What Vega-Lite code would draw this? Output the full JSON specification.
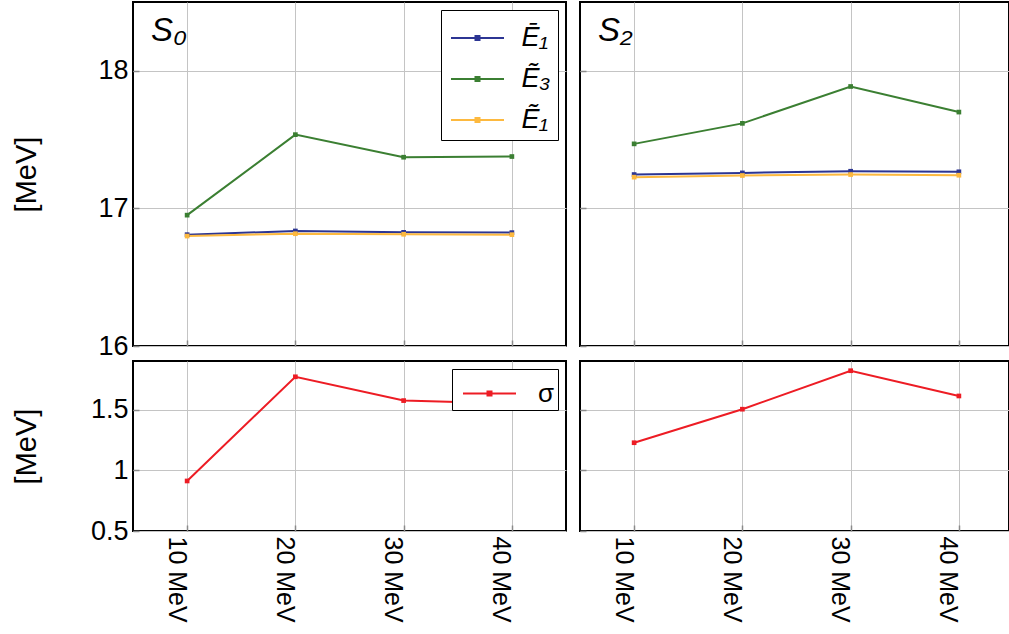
{
  "$schema": "https://vega.github.io/schema/vega-lite/v6.json",
  "padding": {"left": 10, "top": 1, "right": 0, "bottom": 0},
  "background": "white",
  "config": {
    "font": "Liberation Sans",
    "view": {"stroke": "black", "strokeWidth": 2},
    "axis": {
      "gridColor": "#c4c4c4", "gridWidth": 1, "gridOpacity": 1,
      "ticks": true, "tickSize": -6, "tickColor": "#8a8a8a", "tickWidth": 1.5, "domain": false,
      "labelFont": "Liberation Sans", "labelFontSize": 27, "labelColor": "black",
      "titleFont": "Liberation Sans", "titleFontSize": 29, "titleFontWeight": "normal", "titleColor": "black",
      "labelPadding": 11
    },
    "title": {"font": "Liberation Sans", "fontStyle": "italic", "fontWeight": "normal", "fontSize": 33, "color": "black"}
  },
  "datasets": {
    "energies": [
      {"panel": "S0", "energy": 10, "series": "Ē₁", "value": 16.809},
      {"panel": "S0", "energy": 20, "series": "Ē₁", "value": 16.836},
      {"panel": "S0", "energy": 30, "series": "Ē₁", "value": 16.826},
      {"panel": "S0", "energy": 40, "series": "Ē₁", "value": 16.824},
      {"panel": "S0", "energy": 10, "series": "Ẽ₃", "value": 16.951},
      {"panel": "S0", "energy": 20, "series": "Ẽ₃", "value": 17.536},
      {"panel": "S0", "energy": 30, "series": "Ẽ₃", "value": 17.372},
      {"panel": "S0", "energy": 40, "series": "Ẽ₃", "value": 17.377},
      {"panel": "S0", "energy": 10, "series": "Ẽ₁", "value": 16.799},
      {"panel": "S0", "energy": 20, "series": "Ẽ₁", "value": 16.816},
      {"panel": "S0", "energy": 30, "series": "Ẽ₁", "value": 16.812},
      {"panel": "S0", "energy": 40, "series": "Ẽ₁", "value": 16.809},
      {"panel": "S2", "energy": 10, "series": "Ē₁", "value": 17.246},
      {"panel": "S2", "energy": 20, "series": "Ē₁", "value": 17.258},
      {"panel": "S2", "energy": 30, "series": "Ē₁", "value": 17.270},
      {"panel": "S2", "energy": 40, "series": "Ē₁", "value": 17.266},
      {"panel": "S2", "energy": 10, "series": "Ẽ₃", "value": 17.469},
      {"panel": "S2", "energy": 20, "series": "Ẽ₃", "value": 17.618},
      {"panel": "S2", "energy": 30, "series": "Ẽ₃", "value": 17.886},
      {"panel": "S2", "energy": 40, "series": "Ẽ₃", "value": 17.700},
      {"panel": "S2", "energy": 10, "series": "Ẽ₁", "value": 17.227},
      {"panel": "S2", "energy": 20, "series": "Ẽ₁", "value": 17.239},
      {"panel": "S2", "energy": 30, "series": "Ẽ₁", "value": 17.246},
      {"panel": "S2", "energy": 40, "series": "Ẽ₁", "value": 17.241}
    ],
    "widths": [
      {"panel": "S0", "energy": 10, "series": "σ", "value": 0.912},
      {"panel": "S0", "energy": 20, "series": "σ", "value": 1.770},
      {"panel": "S0", "energy": 30, "series": "σ", "value": 1.574},
      {"panel": "S0", "energy": 40, "series": "σ", "value": 1.550},
      {"panel": "S2", "energy": 10, "series": "σ", "value": 1.227},
      {"panel": "S2", "energy": 20, "series": "σ", "value": 1.503},
      {"panel": "S2", "energy": 30, "series": "σ", "value": 1.820},
      {"panel": "S2", "energy": 40, "series": "σ", "value": 1.612}
    ]
  },
  "columns": 2,
  "spacing": {"row": 15, "column": 14},
  "bounds": "flush",
  "resolve": {"scale": {"color": "independent"}},
  "concat": [
    {
      "width": 433, "height": 344,
      "title": {"text": "S₀", "anchor": "start", "frame": "group", "baseline": "alphabetic", "offset": -72, "dx": 18},
      "data": {"name": "energies"},
      "transform": [{"filter": "datum.panel === 'S0'"}],
      "mark": {"type": "line", "strokeWidth": 2, "point": {"shape": "square", "filled": true, "size": 22}},
      "encoding": {
        "x": {"field": "energy", "type": "quantitative", "scale": {"domain": [5, 45], "nice": false, "zero": false},
              "axis": {"values": [10, 20, 30, 40], "labels": false, "title": null}},
        "y": {"field": "value", "type": "quantitative", "scale": {"domain": [16, 18.5], "nice": false, "zero": false},
              "axis": {"values": [16, 17, 18], "title": "[MeV]", "titleX": -107, "titleBaseline": "middle", "titleAlign": "center"}},
        "color": {"field": "series", "type": "nominal",
                  "scale": {"domain": ["Ē₁", "Ẽ₃", "Ẽ₁"], "range": ["#2c3593", "#3b7f32", "#fdb93f"]},
                  "legend": {"title": null, "orient": "top-right", "offset": 8, "strokeColor": "black", "fillColor": "white",
                             "padding": 7, "symbolType": "M-1.325,0H1.325M-0.1,-0.1H0.1V0.1H-0.1Z", "symbolSize": 1600,
                             "symbolStrokeWidth": 2, "symbolOffset": 8.5, "labelFontSize": 27, "labelFontStyle": "italic", "labelOffset": 23,
                             "labelExpr": "datum.label + '\u00a0\u00a0'",
                             "rowPadding": 7, "labelColor": "black", "cornerRadius": 0}}
      }
    },
    {
      "width": 429, "height": 344,
      "title": {"text": "S₂", "anchor": "start", "frame": "group", "baseline": "alphabetic", "offset": -72, "dx": 18},
      "data": {"name": "energies"},
      "transform": [{"filter": "datum.panel === 'S2'"}],
      "mark": {"type": "line", "strokeWidth": 2, "point": {"shape": "square", "filled": true, "size": 22}},
      "encoding": {
        "x": {"field": "energy", "type": "quantitative", "scale": {"domain": [5, 44.63], "nice": false, "zero": false},
              "axis": {"values": [10, 20, 30, 40], "labels": false, "title": null}},
        "y": {"field": "value", "type": "quantitative", "scale": {"domain": [16, 18.5], "nice": false, "zero": false},
              "axis": {"values": [16, 17, 18], "labels": false, "title": null}},
        "color": {"field": "series", "type": "nominal",
                  "scale": {"domain": ["Ē₁", "Ẽ₃", "Ẽ₁"], "range": ["#2c3593", "#3b7f32", "#fdb93f"]},
                  "legend": null}
      }
    },
    {
      "width": 433, "height": 170,
      "data": {"name": "widths"},
      "transform": [{"filter": "datum.panel === 'S0'"}],
      "mark": {"type": "line", "strokeWidth": 2, "point": {"shape": "square", "filled": true, "size": 22}},
      "encoding": {
        "x": {"field": "energy", "type": "quantitative", "scale": {"domain": [5, 45], "nice": false, "zero": false},
              "axis": {"values": [10, 20, 30, 40], "title": null, "labelExpr": "datum.value + ' MeV'", "labelAngle": 90,
                       "labelFontSize": 25, "labelPadding": 11, "labelOffset": -11}},
        "y": {"field": "value", "type": "quantitative", "scale": {"domain": [0.5, 1.9], "nice": false, "zero": false},
              "axis": {"values": [0.5, 1, 1.5], "format": "~g", "title": "[MeV]", "titleX": -107, "titleBaseline": "middle", "titleAlign": "center"}},
        "color": {"field": "series", "type": "nominal",
                  "scale": {"domain": ["σ"], "range": ["#ed1c24"]},
                  "legend": {"title": null, "orient": "top-right", "offset": 8, "strokeColor": "black", "fillColor": "white",
                             "padding": 3.5, "symbolType": "M-1.325,0H1.325M-0.1,-0.1H0.1V0.1H-0.1Z", "symbolSize": 1600,
                             "symbolStrokeWidth": 2, "symbolOffset": 13, "labelFontSize": 26, "labelOffset": 27.5,
                             "labelExpr": "datum.label + '\u00a0\u00a0\u00a0'",
                             "labelColor": "black", "cornerRadius": 0}}
      }
    },
    {
      "width": 429, "height": 170,
      "data": {"name": "widths"},
      "transform": [{"filter": "datum.panel === 'S2'"}],
      "mark": {"type": "line", "strokeWidth": 2, "point": {"shape": "square", "filled": true, "size": 22}},
      "encoding": {
        "x": {"field": "energy", "type": "quantitative", "scale": {"domain": [5, 44.63], "nice": false, "zero": false},
              "axis": {"values": [10, 20, 30, 40], "title": null, "labelExpr": "datum.value + ' MeV'", "labelAngle": 90,
                       "labelFontSize": 25, "labelPadding": 11, "labelOffset": -11}},
        "y": {"field": "value", "type": "quantitative", "scale": {"domain": [0.5, 1.9], "nice": false, "zero": false},
              "axis": {"values": [0.5, 1, 1.5], "labels": false, "title": null}},
        "color": {"field": "series", "type": "nominal",
                  "scale": {"domain": ["σ"], "range": ["#ed1c24"]},
                  "legend": null}
      }
    }
  ]
}
